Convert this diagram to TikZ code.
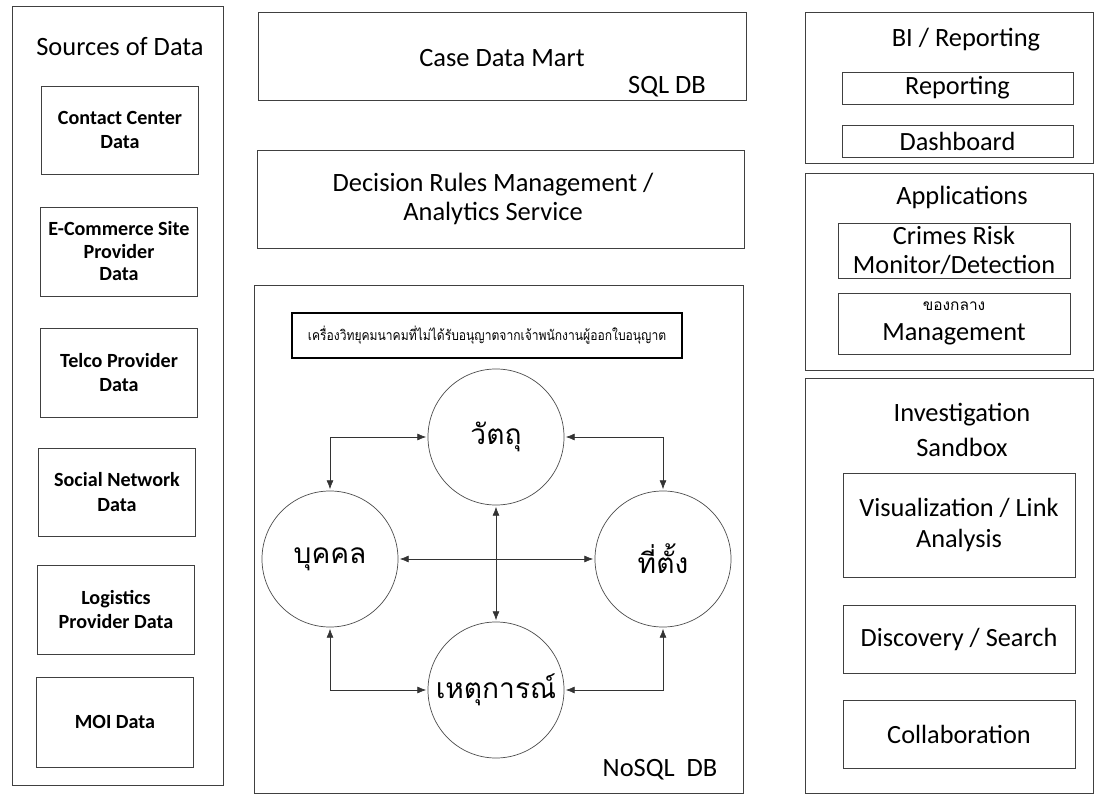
\documentclass[tikz,border=0pt]{standalone}
\usepackage{fontspec}
\setmainfont{Carlito}
\newfontfamily\thaifont[Script=Thai]{Loma}
\newfontfamily\thainarrow[Script=Thai,FakeStretch=0.86]{Loma}
\usetikzlibrary{arrows.meta}

\tikzset{
  wh/.style 2 args={minimum width=#1*0.025cm, minimum height=#2*0.025cm},
  frame/.style={draw=black!75, line width=0.5pt, inner sep=0pt},
  srcbox/.style={frame, align=center, font=\fontsize{14.3}{17.5}\selectfont\bfseries},
  appbox/.style={frame, align=center, font=\fontsize{18.7}{22.5}\selectfont},
  title/.style={align=center, font=\fontsize{18.8}{20}\selectfont},
  entity/.style={circle, draw=black!70, line width=0.5pt, minimum size=3.4cm,
    inner sep=0pt, font=\thaifont\fontsize{20}{24}\selectfont},
  link/.style={{Latex[length=2.2mm,width=1.7mm]}-{Latex[length=2.2mm,width=1.7mm]},
    black!80, line width=0.45pt, shorten <=1pt, shorten >=1pt},
}

\begin{document}
\begin{tikzpicture}[x=0.025cm, y=-0.025cm]
\useasboundingbox (0,0) rectangle (1097,799);
% sources of data
\node[frame, wh={211}{779}] (src) at (118,396) {};
\node[title] (srct) at (120,47) {Sources of Data};
\node[srcbox, wh={157}{88}] (cc) at (120,130) {Contact Center\\Data};
\node[srcbox, wh={157}{89}, font=\fontsize{14.3}{16}\selectfont\bfseries] (ecom) at (119,251.5) {E-Commerce Site\\Provider\\Data};
\node[srcbox, wh={157}{89}] (telco) at (119,372.5) {Telco Provider\\Data};
\node[srcbox, wh={157}{88}] (soc) at (117,492) {Social Network\\Data};
\node[srcbox, wh={157}{89}] (logi) at (116,609.5) {Logistics\\Provider Data};
\node[srcbox, wh={157}{90}] (moi) at (115,722) {MOI Data};

% middle column
\node[frame, wh={488}{88}] (mart) at (502,56) {};
\node[title] (martt) at (502,58) {Case Data Mart};
\node[title] (sql) at (667,87) {SQL DB};
\node[frame, wh={487}{98}] (rules) at (500.5,199) {};
\node[title] (rulest) at (493,199) {Decision Rules Management /\\Analytics Service};
\node[frame, wh={489}{508}] (nosql) at (498.5,539) {};
\node[title] (nosqlt) at (660,770) {NoSQL~ DB};
\node[draw, line width=1.2pt, wh={390}{45}, font=\thainarrow\fontsize{10}{12}\selectfont] (law) at (487,335.5)
  {เครื่องวิทยุคมนาคมที่ไม่ได้รับอนุญาตจากเจ้าพนักงานผู้ออกใบอนุญาต};

\node[entity] (obj) at (496,437) {วัตถุ};
\node[entity] (per) at (330,559) {บุคคล};
\node[entity] (loc) at (663,559) {ที่ตั้ง};
\node[entity] (evt) at (496,690) {เหตุการณ์};

\draw[link] (obj.west) -| (per.north);
\draw[link] (obj.east) -| (loc.north);
\draw[link] (per.south) |- (evt.west);
\draw[link] (loc.south) |- (evt.east);
\draw[link] (obj.south) -- (evt.north);
\draw[link] (per.east) -- (loc.west);

% right column
\node[frame, wh={288}{151}] (bi) at (949,87.5) {};
\node[title] (bit) at (966,40) {BI / Reporting};
\node[appbox, wh={231}{32}] (rep) at (957.5,88) {Reporting};
\node[appbox, wh={231}{32}] (dash) at (957.5,141) {Dashboard};
\node[frame, wh={288}{197}] (apps) at (949,271.5) {};
\node[title] (appst) at (962,197) {Applications};
\node[appbox, wh={232}{55}, font=\fontsize{18.7}{21}\selectfont] (crime) at (954,250.5)
  {Crimes Risk\\Monitor/Detection};
\node[appbox, wh={232}{61}, font=\fontsize{18.7}{21}\selectfont] (exhib) at (954,323.5)
  {{\thaifont\fontsize{11}{12}\selectfont ของกลาง}\\Management};
\node[frame, wh={288}{415}] (inv) at (949,585.5) {};
\node[title, font=\fontsize{18.8}{25.5}\selectfont] (invt) at (962,430) {Investigation\\Sandbox};
\node[appbox, wh={232}{104}] (vis) at (959,525) {Visualization / Link\\Analysis};
\node[appbox, wh={232}{68}] (disc) at (959,639) {Discovery / Search};
\node[appbox, wh={232}{68}] (collab) at (959,734) {Collaboration};
\end{tikzpicture}
\end{document}
